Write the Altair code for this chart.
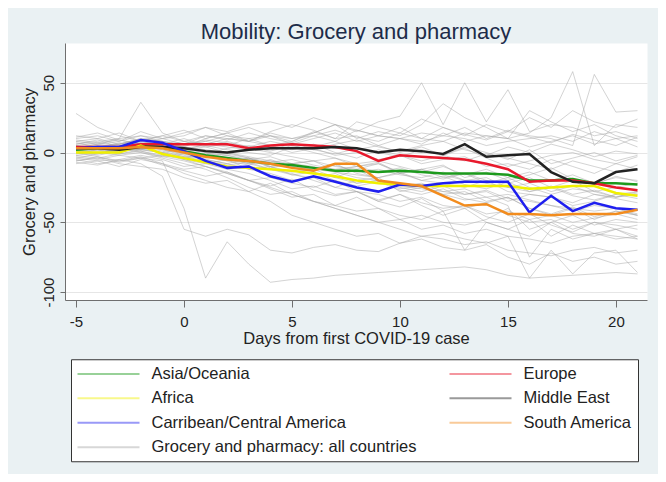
import altair as alt
import pandas as pd

days = list(range(-5, 22))

# legend is laid out column by column: left column first, then right column
SERIES = [
    "Asia/Oceania",
    "Africa",
    "Carribean/Central America",
    "Grocery and pharmacy: all countries",
    "Europe",
    "Middle East",
    "South America",
]
COLORS = ["#1c9a1c", "#f0f000", "#1f1fef", "#a8a8a8", "#e8192c", "#222222", "#f28c1e"]
ALL = "Grocery and pharmacy: all countries"
REGION_NAMES = ["Asia/Oceania", "Europe", "Africa", "Middle East",
                "Carribean/Central America", "South America"]

asia = [2, 3, 3, 5, 4, 1, -2, -4, -6, -8, -9, -11, -13, -13, -14, -13, -14, -15, -15, -15, -16, -20, -20, -19, -22, -22, -23]
europe = [4, 4, 4, 6, 6, 6, 6, 6, 3, 5, 6, 5, 4, 1, -6, -2, -3, -4, -5, -8, -12, -21, -20, -20, -22, -25, -27]
africa = [0, 0, 0, 5, -1, -4, -7, -10, -11, -12, -13, -15, -17, -20, -22, -23, -24, -24, -24, -24, -24, -26, -25, -24, -24, -29, -31]
middle_east = [3, 3, 2, 4, 4, 3, 1, 0, 2, 3, 3, 3, 4, 3, 0, 2, 1, -1, 6, -3, -2, -1, -14, -21, -22, -14, -12]
caribbean = [3, 4, 4, 9, 7, 1, -6, -11, -10, -17, -21, -17, -21, -25, -28, -23, -24, -22, -21, -21, -21, -43, -31, -42, -36, -40, -41]
south_america = [3, 3, 3, 4, 3, 0, -3, -5, -6, -8, -11, -13, -8, -8, -20, -22, -24, -31, -38, -37, -44, -44, -45, -44, -44, -44, -41]

regions = [asia, europe, africa, middle_east, caribbean, south_america]

gray = [
    [28, 18, 12, 8, 6, 4, 2, 0, -4, -8, -10, -12, -14, -18, -20, -24, -26, -28, -30, -27, -33, -35, -38, -40, -42, -40, -45],
    [6, 8, 10, 36, 14, 8, 4, 0, -3, -6, -8, -10, -14, -16, -18, -15, -20, -22, -25, -20, -28, -30, -32, -36, -30, -33, -36],
    [2, 0, -2, -4, -6, -40, -90, -64, -80, -93, -91, -90, -88, -87, -86, -85, -84, -83, -82, -84, -88, -90, -89, -88, -87, -86, -87],
    [-4, -6, -5, -8, -17, -55, -60, -55, -59, -70, -72, -68, -66, -70, -71, -65, -60, -62, -66, -64, -70, -72, -74, -70, -68, -72, -70],
    [0, -2, 1, 3, 0, -5, -10, -15, -20, -25, -30, -35, -40, -45, -50, -55, -60, -58, -62, -65, -60, -62, -65, -60, -58, -62, -60],
    [-3, -5, -2, 0, -4, -8, -12, -18, -25, -30, -28, -35, -40, -45, -50, -48, -55, -52, -58, -55, -60, -90, -70, -87, -72, -70, -86],
    [10, 12, 8, 15, 10, 12, 18, 15, 20, 22, 18, 25, 20, 15, 22, 26, 50, 20, 50, 22, 45, 15, 20, 18, 12, 15, 10],
    [12, 10, 14, 8, 12, 16, 10, 14, 18, 12, 10, 14, 20, 16, 12, 18, 10, 8, 14, 12, 10, 14, 25, 58, 5, 20, 18],
    [8, 6, 10, 12, 8, 6, 12, 10, 8, 14, 10, 12, 8, 16, 12, 10, 14, 12, 18, 10, 16, 12, 10, 5, 56, 29, 30],
    [5, 3, 6, 10, 8, 5, 8, 12, 10, 5, 8, 14, 20, 10, 15, 12, 20, 35, 25, 18, 10, 30, 22, 15, 20, 12, 8],
    [-8, -6, -10, -5, -8, -12, -10, -15, -20, -18, -22, -25, -20, -28, -30, -35, -32, -38, -40, -36, -45, -50, -48, -55, -50, -52, -55],
    [3, 5, 2, 6, 4, 2, 0, -2, -5, -3, -8, -6, -10, -12, -8, -15, -12, -18, -15, -20, -22, -18, -25, -20, -28, -25, -22],
    [7, 4, 6, 9, 12, 8, 6, 4, 2, 5, 0, 3, -2, 0, -5, -2, -8, -5, -3, -10, -8, -12, -5, -10, -15, -8, -12],
    [-2, 0, 3, 1, -3, -6, -10, -14, -20, -26, -32, -30, -38, -42, -40, -48, -45, -50, -52, -48, -40, -55, -50, -45, -52, -48, -50],
    [1, 3, 0, 5, 2, -2, -5, -8, -12, -10, -16, -18, -15, -22, -20, -25, -28, -24, -30, -28, -35, -30, -32, -38, -35, -30, -28],
    [4, 6, 8, 12, 10, 6, 8, 5, 10, 12, 8, 15, 10, 12, 5, 10, 8, 12, 10, 5, 8, 10, 12, 8, 15, 10, 12],
    [-5, -8, -6, -3, -8, -15, -20, -25, -28, -22, -30, -35, -38, -32, -40, -45, -48, -42, -70, -50, -55, -60, -50, -58, -60, -55, -62],
    [2, 4, 6, 10, 8, 4, 0, -4, -8, -12, -15, -20, -25, -20, -18, -28, -25, -30, -28, -35, -32, -40, -45, -40, -48, -42, -45],
    [9, 7, 5, 8, 6, 4, 10, 14, 8, 5, 2, 6, 0, -4, 2, -2, -6, -2, 4, 0, -5, 2, -8, -4, 0, -6, -2],
    [-6, -4, -8, -10, -12, -18, -22, -20, -28, -35, -45, -50, -55, -60, -58, -65, -62, -68, -70, -66, -75, -80, -72, -78, -75, -80, -78],
    [5, 2, 4, 8, 5, 0, -4, -2, -6, -10, -8, -14, -18, -12, -20, -24, -22, -28, -26, -32, -30, -34, -38, -42, -38, -40, -44],
    [3, 1, 5, 7, 3, 1, -1, 3, 5, 2, 6, 4, 8, 2, 5, 0, 4, -2, 3, -4, -10, -6, -2, 0, -5, -8, -3],
    [-1, 2, 4, 2, 0, 2, 4, 6, 3, 0, -3, -6, -4, -10, -8, -14, -12, -16, -20, -18, -25, -22, -28, -24, -30, -32, -28],
    [6, 9, 4, 2, 6, 10, 5, 2, 0, -2, 4, 0, -4, -8, -6, -10, -14, -10, -16, -12, -18, -14, -20, -16, -22, -18, -20],
    [0, -3, -6, -4, -2, -5, -8, -5, -12, -15, -20, -18, -25, -28, -35, -30, -38, -45, -40, -50, -55, -48, -60, -52, -58, -55, -60],
    [11, 14, 9, 6, 10, 14, 18, 12, 8, 15, 20, 16, 10, 22, 18, 14, 24, 18, 12, 20, 15, 25, 18, 30, 22, 18, 24],
    [-7, -9, -5, -2, -5, -10, -8, -12, -15, -20, -26, -24, -30, -28, -34, -30, -36, -40, -38, -44, -42, -48, -45, -50, -47, -44, -48],
    [4, 2, 0, 3, 5, 2, 6, 10, 8, 12, 6, 10, 14, 8, 12, 10, 6, 14, 8, 12, 10, 4, 8, 12, 6, 10, 4],
    [1, 4, 7, 5, 2, -1, -3, -6, -4, -10, -14, -12, -18, -22, -20, -26, -24, -30, -34, -32, -38, -75, -55, -62, -58, -60, -62],
    [-2, -4, -1, 2, 0, -3, -2, -5, -8, -6, -10, -12, -9, -14, -12, -16, -18, -14, -20, -22, -18, -25, -30, -26, -28, -32, -30],
    [2, 5, 3, 7, 4, 1, -2, -1, -4, -7, -5, -9, -12, -10, -14, -11, -16, -19, -15, -22, -25, -28, -24, -30, -27, -32, -29],
    [-4, -1, 2, 4, 1, -3, -6, -9, -7, -12, -16, -14, -20, -24, -21, -27, -30, -26, -33, -36, -32, -40, -44, -39, -46, -42, -45],
    [8, 10, 6, 9, 7, 3, 5, 8, 4, 1, 5, 2, -1, 3, 0, -3, 2, -2, -6, -1, -4, -8, -12, -6, -10, -14, -9],
    [0, 2, -1, 1, -2, -4, -2, -6, -9, -5, -10, -13, -8, -15, -18, -14, -20, -17, -23, -26, -21, -28, -25, -31, -34, -30, -33],
    [5, 7, 9, 6, 3, 6, 9, 7, 4, 8, 5, 2, 6, 9, 4, 1, 5, 8, 2, -2, 4, 0, 6, 2, -3, 1, -1],
    [-6, -3, -7, -4, -9, -13, -17, -14, -20, -24, -19, -27, -31, -28, -35, -39, -33, -42, -38, -46, -50, -44, -52, -57, -50, -55, -52],
    [3, 6, 4, 2, 5, 8, 12, 9, 14, 10, 7, 12, 16, 11, 8, 14, 10, 18, 13, 9, 15, 11, 7, 13, 9, 5, 11],
    [1, -1, 3, 0, -3, -1, -5, -8, -4, -11, -8, -6, -13, -10, -7, -15, -12, -9, -18, -14, -20, -16, -11, -19, -23, -17, -21],
]

x_ticks = [-5, 0, 5, 10, 15, 20]
y_ticks = [-100, -50, 0, 50]

rows_gray = []
for i, vals in enumerate(gray):
    for d, v in zip(days, vals):
        rows_gray.append({"day": d, "value": v, "series": ALL, "country": f"c{i}"})
df_gray = pd.DataFrame(rows_gray)

rows_reg = []
for name, vals in zip(REGION_NAMES, regions):
    for d, v in zip(days, vals):
        rows_reg.append({"day": d, "value": v, "series": name})
df_reg = pd.DataFrame(rows_reg)

FONT = "Liberation Sans"
LABEL_EXPR = "datum.value < 0 ? '-' + abs(datum.value) : '' + datum.value"

x_enc = alt.X(
    "day:Q",
    scale=alt.Scale(domain=[-5.51, 21.44], nice=False, zero=False),
    axis=alt.Axis(values=x_ticks, title="Days from first COVID-19 case", grid=False,
                  tickSize=7, labelPadding=7, titlePadding=1, labelFontSize=15,
                  labelExpr=LABEL_EXPR),
)
y_enc = alt.Y(
    "value:Q",
    scale=alt.Scale(domain=[-105.7, 78.5], nice=False, zero=False),
    axis=alt.Axis(values=y_ticks, title="Grocery and pharmacy", grid=True,
                  labelAngle=270, labelAlign="center", labelBaseline="bottom",
                  tickSize=5, labelPadding=4, titlePadding=4, labelFontSize=15,
                  labelExpr=LABEL_EXPR),
)

legend = alt.Legend(
    title=None, orient="none", legendX=6, legendY=316.25, columns=2, direction="vertical",
    strokeColor="#333333", fillColor="white", padding=5.5,
    symbolType="M-3.875,0H3.875", symbolSize=256, symbolStrokeWidth=2, symbolOpacity=0.45,
    symbolOffset=23,
    labelFontSize=16.5, labelFont=FONT, labelColor="#222222", labelOffset=34,
    rowPadding=6.5, columnPadding=28, labelLimit=400,
)
color_enc = alt.Color("series:N", scale=alt.Scale(domain=SERIES, range=COLORS), legend=legend)

gray_layer = alt.Chart(df_gray).mark_line(strokeWidth=1, opacity=0.5).encode(
    x=x_enc, y=y_enc, color=color_enc, detail="country:N"
)
reg_layer = alt.Chart(df_reg).mark_line(strokeWidth=2.5).encode(
    x=x_enc, y=y_enc, color=color_enc
)

chart = (
    alt.layer(gray_layer, reg_layer)
    .properties(
        width=582, height=257,
        autosize=alt.AutoSizeParams(type="none"),
        padding={"left": 57, "top": 35, "right": 11, "bottom": 174},
        title=alt.TitleParams("Mobility: Grocery and pharmacy", fontSize=22, font=FONT,
                              fontWeight="normal", color="#1d2c49", anchor="middle",
                              baseline="alphabetic", offset=4, dy=22),
    )
    .configure(background="#eaf1f3")
    .configure_view(fill="white", strokeOpacity=0)
    .configure_axis(
        domainColor="#6f6f6f", tickColor="#6f6f6f", gridColor="#e6e6e6",
        labelColor="#222222", titleColor="#222222", labelFont=FONT, titleFont=FONT,
        titleFontSize=16.5, titleFontWeight="normal",
    )
)

chart.save("out.html", embed_options={"renderer": "svg", "actions": False})
